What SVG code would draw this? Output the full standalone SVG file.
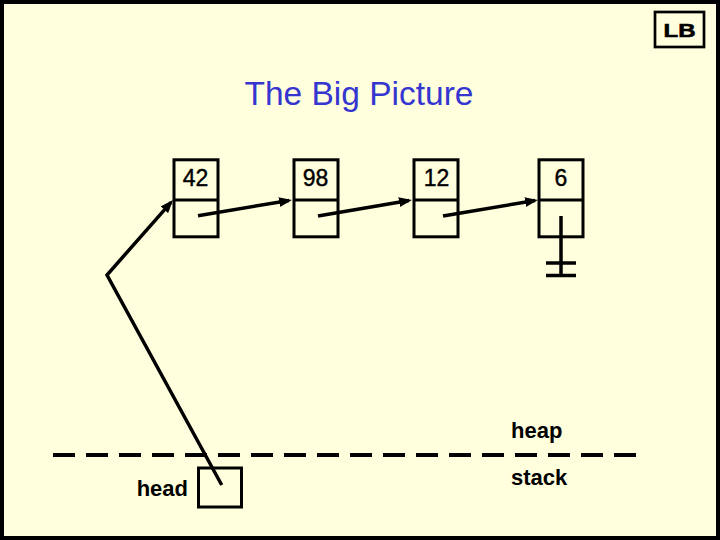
<svg xmlns="http://www.w3.org/2000/svg" width="720" height="540" viewBox="0 0 720 540">
<style>
.box{fill:none;stroke:#000;stroke-width:3}
.ln{fill:none;stroke:#000;stroke-width:3.5;stroke-linejoin:miter}
.lbl{font-family:"Liberation Sans",Arial,sans-serif;font-size:22px;font-weight:bold;fill:#000}
.num{font-family:"Liberation Sans",Arial,sans-serif;font-size:23px;fill:#000;text-anchor:middle;stroke:#000;stroke-width:0.4}
</style>
<defs>
<marker id="ah" markerUnits="userSpaceOnUse" markerWidth="15" markerHeight="11" refX="10" refY="5" orient="auto">
<path d="M0,0 L13,5 L0,10 z" fill="#000"/>
</marker>
</defs>
<rect x="0" y="0" width="720" height="540" fill="#FFFFDD"/>
<rect x="2" y="2" width="716" height="536" fill="none" stroke="#000" stroke-width="4"/>
<g id="lb">
<rect x="655" y="12" width="49" height="35" fill="none" stroke="#000" stroke-width="2.7"/>
<text x="679.5" y="37" font-family="Liberation Sans,Arial,sans-serif" font-size="19" font-weight="bold" text-anchor="middle" textLength="32" lengthAdjust="spacingAndGlyphs" stroke="#000" stroke-width="0.6">LB</text>
</g>
<g id="title">
<text x="359" y="105" font-family="Liberation Sans,Arial,sans-serif" font-size="33.5" fill="#3535D0" text-anchor="middle">The Big Picture</text>
</g>
<g id="node42">
<rect class="box" x="174" y="159.8" width="44" height="77"/>
<line class="box" x1="174" y1="200" x2="218" y2="200"/>
<text class="num" x="195.5" y="186">42</text>
</g>
<g id="node98">
<rect class="box" x="294" y="159.8" width="44" height="77"/>
<line class="box" x1="294" y1="200" x2="338" y2="200"/>
<text class="num" x="315.5" y="186">98</text>
</g>
<g id="node12">
<rect class="box" x="414" y="159.8" width="44" height="77"/>
<line class="box" x1="414" y1="200" x2="458" y2="200"/>
<text class="num" x="436.5" y="186">12</text>
</g>
<g id="node6">
<rect class="box" x="539" y="159.8" width="44" height="77"/>
<line class="box" x1="539" y1="200" x2="583" y2="200"/>
<text class="num" x="561" y="186">6</text>
</g>
<g id="head">
<rect class="box" x="198.5" y="468" width="43" height="39"/>
<text class="lbl" x="188" y="496" text-anchor="end">head</text>
</g>
<g id="labels">
<text class="lbl" x="511" y="438">heap</text>
<text class="lbl" x="511" y="485">stack</text>
</g>
<g id="divider">
<line x1="53" y1="455" x2="637" y2="455" stroke="#000" stroke-width="4" stroke-dasharray="22 11"/>
</g>
<g id="connectors">
<line class="ln" x1="198" y1="215.7" x2="289" y2="200.5" marker-end="url(#ah)"/>
<line class="ln" x1="318" y1="216" x2="409" y2="200.5" marker-end="url(#ah)"/>
<line class="ln" x1="443" y1="216" x2="535" y2="200.5" marker-end="url(#ah)"/>
<polyline class="ln" points="221.7,485 107,275 171,202.3" marker-end="url(#ah)"/>
<line class="ln" x1="561" y1="216" x2="561" y2="277"/>
<line class="ln" x1="546" y1="263" x2="576" y2="263"/>
<line class="ln" x1="546" y1="275.5" x2="576" y2="275.5"/>
</g>
</svg>
